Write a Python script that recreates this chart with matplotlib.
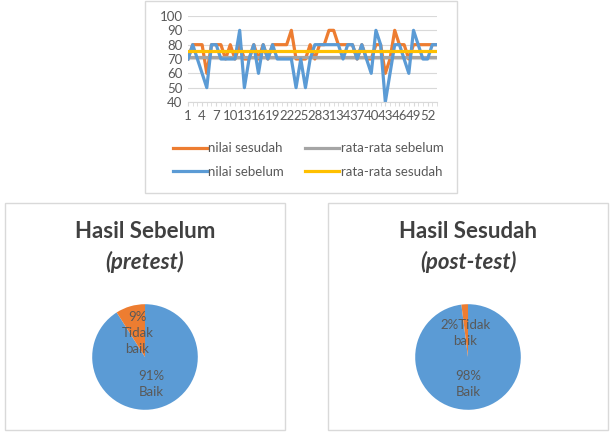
import numpy as np
import matplotlib.pyplot as plt
from matplotlib.patches import Rectangle

plt.rcParams['font.family'] = ['Lato', 'DejaVu Sans']

# nilai per siswa
nilai_sebelum = [70, 80, 70, 60, 50, 80, 80, 70, 70, 70, 70, 90, 50, 70, 80,
                 60, 80, 70, 80, 70, 70, 70, 70, 50, 70, 50, 70, 80, 80, 80,
                 80, 80, 80, 70, 80, 80, 70, 80, 70, 60, 90, 80, 40, 60, 80,
                 80, 70, 60, 90, 80, 70, 70, 80, 80]
nilai_sesudah = [70, 80, 80, 80, 60, 80, 80, 80, 70, 80, 70, 80, 70, 70, 80,
                 70, 80, 70, 80, 80, 80, 80, 90, 70, 70, 70, 80, 70, 80, 80,
                 90, 90, 80, 80, 80, 80, 70, 80, 70, 70, 80, 80, 60, 70, 90,
                 80, 80, 70, 80, 80, 80, 80, 80, 80]
rata_sebelum = 71.5
rata_sesudah = 75.5

pie_labels = ['Baik', 'Tidak baik']
pie_sebelum = [91, 9]
pie_sesudah = [98, 2]

blue = '#5B9BD5'
orange = '#ED7D31'
gray = '#A5A5A5'
yellow = '#FFC000'
txt = '#595959'

W, H = 615, 445
fig = plt.figure(figsize=(W / 100, H / 100), dpi=100)


def px_axes(x0, y0, x1, y1):
    return fig.add_axes([x0 / W, 1 - y1 / H, (x1 - x0) / W, (y1 - y0) / H])


def px_box(x0, y0, x1, y1):
    fig.patches.append(Rectangle((x0 / W, 1 - y1 / H), (x1 - x0) / W, (y1 - y0) / H,
                                 transform=fig.transFigure, fill=False,
                                 edgecolor='#D9D9D9', lw=1))


# --- line chart ---
px_box(145, 1, 457, 193)
ax = px_axes(188, 16, 437, 102)
n = len(nilai_sebelum)
x = np.arange(1, n + 1)
ax.plot(x, nilai_sesudah, color=orange, lw=2.3, label='nilai sesudah')
ax.plot(x, [rata_sebelum] * n, color=gray, lw=2.3, label='rata-rata sebelum')
ax.plot(x, nilai_sebelum, color=blue, lw=2.3, label='nilai sebelum')
ax.plot(x, [rata_sesudah] * n, color=yellow, lw=2.3, label='rata-rata sesudah')
ax.set_xlim(1, n)
ax.set_ylim(40, 100)
ax.set_yticks(range(40, 101, 10))
ax.grid(axis='y', color='#D9D9D9', lw=0.8)
ax.set_axisbelow(True)
for s in ['top', 'right', 'left']:
    ax.spines[s].set_visible(False)
ax.spines['bottom'].set_color('#D9D9D9')
ax.set_xticks(x, minor=True)
ax.set_xticks(x[::3])
ax.set_xticklabels([str(v) for v in x[::3]])
ax.tick_params(axis='y', length=0, labelsize=9.5, labelcolor=txt, pad=4)
ax.tick_params(axis='x', which='both', length=3, color='#D9D9D9',
               labelsize=9.5, labelcolor=txt, pad=3)

h, l = ax.get_legend_handles_labels()
order = [0, 2, 1, 3]
fig.legend([h[i] for i in order], [l[i] for i in order], ncol=2,
           loc='center', bbox_to_anchor=(308 / W, 1 - 160 / H),
           frameon=False, fontsize=9.5, labelcolor=txt, handlelength=2.6,
           handletextpad=0.1, columnspacing=1.6, labelspacing=0.85)

# --- pie charts ---
def pie_panel(x0, x1, title1, title2, values, lab_big, lab_small, dx_big, dx_small):
    px_box(x0, 203, x1, 430)
    cx = (x0 + x1) / 2
    fig.text(cx / W, 1 - 232 / H, title1, ha='center', va='center',
             fontsize=16, fontweight='bold', color='#404040')
    fig.text(cx / W, 1 - 262 / H, title2, ha='center', va='center',
             fontsize=16, fontweight='bold', fontstyle='italic', color='#404040')
    pax = px_axes(cx - 66, 291, cx + 66, 423)
    pax.pie(values, colors=[blue, orange], startangle=90, counterclock=False,
            wedgeprops=dict(linewidth=0))
    pax.set_aspect('equal')
    pax.text(dx_big, -0.52, lab_big, ha='center', va='center',
             fontsize=9.5, color=txt, linespacing=1.4)
    pax.text(dx_small, 0.46, lab_small, ha='center', va='center',
             fontsize=9.5, color=txt, linespacing=1.4)


pie_panel(5, 285, 'Hasil Sebelum', '(pretest)', pie_sebelum,
          '%d%%\n%s' % (pie_sebelum[0], pie_labels[0]),
          '%d%%\nTidak\nbaik' % pie_sebelum[1], 0.12, -0.14)
pie_panel(328, 608, 'Hasil Sesudah', '(post-test)', pie_sesudah,
          '%d%%\n%s' % (pie_sesudah[0], pie_labels[0]),
          '%d%%Tidak\nbaik' % pie_sesudah[1], 0.0, -0.05)

fig.savefig('out.png', dpi=100)
